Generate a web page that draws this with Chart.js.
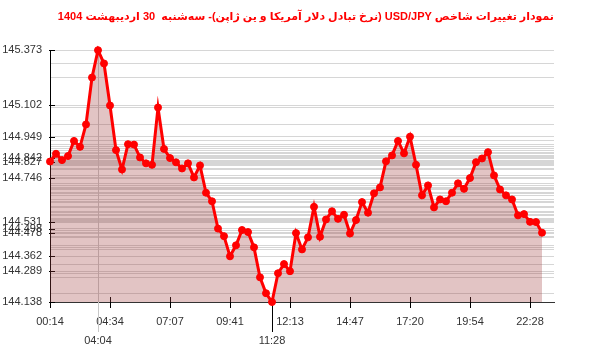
<!DOCTYPE html>
<html>
<head>
<meta charset="utf-8">
<script src="https://cdn.jsdelivr.net/npm/chart.js@4"></script>
<style>
  body { margin: 0; background: #fff; }
</style>
</head>
<body>
<canvas id="chart" width="600" height="352" dir="rtl"></canvas>
<script>
const chartTitle = 'نمودار تغییرات شاخص USD/JPY (نرخ تبادل دلار آمریکا و ین ژاپن)- سه‌شنبه  30 اردیبهشت 1404';

// one value every ~15 minutes
const prices = [
  144.827, 144.865, 144.834, 144.854, 144.928, 144.899, 145.009, 145.239, 145.373, 145.308,
  145.102, 144.883, 144.788, 144.912, 144.910, 144.847, 144.818, 144.811, 145.092, 144.889,
  144.844, 144.823, 144.793, 144.818, 144.749, 144.808, 144.674, 144.632, 144.498, 144.461,
  144.362, 144.416, 144.491, 144.481, 144.406, 144.259, 144.181, 144.138, 144.279, 144.324,
  144.289, 144.476, 144.396, 144.455, 144.605, 144.458, 144.543, 144.583, 144.546, 144.566,
  144.474, 144.540, 144.628, 144.576, 144.671, 144.700, 144.828, 144.857, 144.928, 144.867,
  144.949, 144.811, 144.661, 144.710, 144.602, 144.641, 144.632, 144.674, 144.720, 144.693,
  144.746, 144.824, 144.842, 144.873, 144.759, 144.690, 144.661, 144.641, 144.563, 144.569,
  144.531, 144.530, 144.478
];

// x ticks (point index -> time)
const timeTickIndex = [0, 8, 10, 20, 30, 37, 40, 50, 60, 70, 80];
const timeTickLabels = ['00:14', '04:04', '04:34', '07:07', '09:41', '11:28', '12:13', '14:47', '17:20', '19:54', '22:28'];
const highIndex = 8;   // 04:04
const lowIndex = 37;   // 11:28

const yLabelValues = [145.373, 145.102, 144.949, 144.842, 144.827, 144.746, 144.531, 144.498, 144.478, 144.362, 144.289, 144.138];

const points = prices.map((p, i) => ({ x: i, y: p }));

const tickMarks = {
  id: 'tickMarks',
  beforeDatasetsDraw(chart) {
    const ctx = chart.ctx;
    const xs = chart.scales.x, ys = chart.scales.y;
    const area = chart.chartArea;
    ctx.save();
    ctx.lineWidth = 1;
    timeTickIndex.forEach((idx) => {
      const px = Math.round(xs.getPixelForValue(idx)) + 0.5;
      ctx.beginPath();
      if (idx === highIndex) {
        ctx.strokeStyle = '#c8c8c8';
        ctx.moveTo(px, area.top);
        ctx.lineTo(px, area.bottom + 30);
      } else if (idx === lowIndex) {
        ctx.strokeStyle = '#000';
        ctx.moveTo(px, area.bottom - 5);
        ctx.lineTo(px, area.bottom + 30);
      } else {
        ctx.strokeStyle = '#000';
        ctx.moveTo(px, area.bottom - 5);
        ctx.lineTo(px, area.bottom + 6);
      }
      ctx.stroke();
    });
    ctx.strokeStyle = '#000';
    yLabelValues.forEach((v) => {
      const py = Math.round(ys.getPixelForValue(v)) + 0.5;
      ctx.beginPath();
      ctx.moveTo(area.left - 1, py);
      ctx.lineTo(area.left + 5, py);
      ctx.stroke();
    });
    ctx.restore();
  }
};

new Chart(document.getElementById('chart'), {
  type: 'line',
  data: {
    datasets: [{
      data: points,
      borderColor: '#ff0000',
      borderWidth: 3,
      backgroundColor: 'rgba(160, 60, 60, 0.3)',
      fill: 'start',
      pointRadius: 3.5,
      pointBackgroundColor: '#ff0000',
      pointBorderColor: '#ff0000',
      pointBorderWidth: 1,
      tension: 0,
      clip: false
    }]
  },
  options: {
    responsive: false,
    animation: false,
    devicePixelRatio: 1,
    layout: { padding: { left: 0, right: 46, top: 0, bottom: 0 } },
    plugins: {
      legend: { display: false },
      tooltip: { enabled: false },
      title: {
        display: true,
        text: chartTitle,
        align: 'end',
        color: '#ff0000',
        font: { family: '"Liberation Sans", "DejaVu Sans", sans-serif', size: 11, weight: 'bold' },
        padding: { top: 10, bottom: 27 }
      }
    },
    scales: {
      x: {
        type: 'linear',
        min: 0,
        max: 84,
        afterBuildTicks(scale) {
          scale.ticks = timeTickIndex.map((v) => ({ value: v }));
        },
        afterFit(scale) { scale.height = 50; },
        ticks: {
          autoSkip: false,
          maxRotation: 0,
          padding: 10,
          color: '#333',
          font: { family: 'Arial, "Liberation Sans", sans-serif', size: 11, lineHeight: 1.75 },
          callback(value) {
            const k = timeTickIndex.indexOf(value);
            if (k < 0) return '';
            if (value === highIndex || value === lowIndex) return ['', timeTickLabels[k]];
            return timeTickLabels[k];
          }
        },
        grid: { display: false, drawTicks: false },
        border: { display: true, color: '#333', width: 1 }
      },
      y: {
        type: 'linear',
        min: 144.138,
        max: 145.373,
        afterBuildTicks(scale) {
          const vals = Array.from(new Set(prices.concat(yLabelValues))).sort((a, b) => a - b);
          scale.ticks = vals.map((v) => ({ value: v }));
        },
        afterFit(scale) { scale.width = 50; },
        ticks: {
          autoSkip: false,
          padding: 8,
          color: '#333',
          font: { family: 'Arial, "Liberation Sans", sans-serif', size: 11 },
          callback(value) {
            return yLabelValues.includes(value) ? value.toFixed(3) : '';
          }
        },
        grid: { color: '#d6d6d6', lineWidth: 1, drawTicks: false },
        border: { display: true, color: '#000', width: 1 }
      }
    }
  },
  plugins: [tickMarks]
});
</script>
</body>
</html>
